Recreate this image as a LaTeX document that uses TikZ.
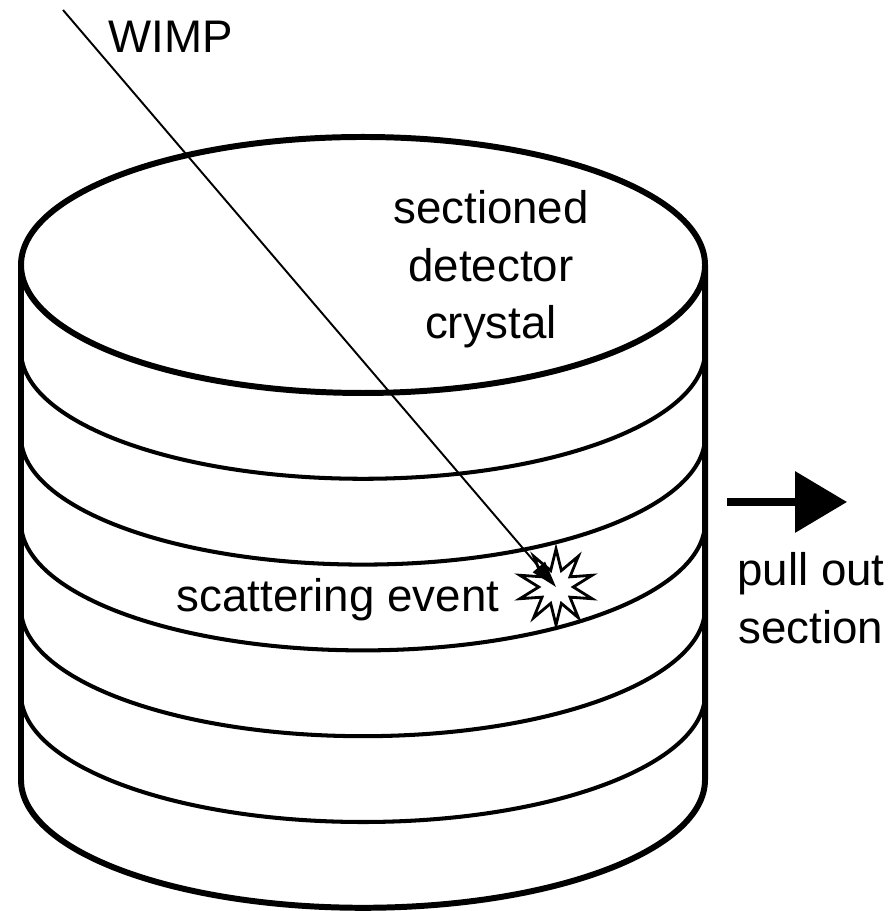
\documentclass[tikz,border=0pt]{standalone}
\usepackage{fontspec}
\setmainfont{Liberation Sans}
\usetikzlibrary{arrows.meta,shapes.geometric}
\tikzset{
  rim/.style={line width=3.4pt},
  slice/.style={line width=2.3pt},
  burst/.style={star, star points=10, star point ratio=2.2, minimum size=1.52cm,
    inner sep=0pt, draw, line width=1.6pt, fill=white},
}
\begin{document}
\begin{tikzpicture}[x=0.02cm, y=0.02cm, every node/.style={font=\fontsize{26}{32.5}\selectfont}]
  \useasboundingbox (0,0) rectangle (892,911);
  % sections under the lid
  \foreach \k in {1,...,5}
    \draw[slice] (21,646-85.8*\k) arc (180:360:342 and 128);
  % crystal outline
  \draw[rim] (21,646) -- (21,131.2) arc (180:360:342 and 128) -- (705,646);
  \draw[rim] (363,646) ellipse (342 and 128);
  \node [anchor=base] (lid) at (491,687) {\begin{tabular}[t]{c}sectioned\\detector\\crystal\end{tabular}};
  \node [burst] (hit) at (556,324) {};
  \node [anchor=base] (event) at (338,299) {scattering event};
  \coordinate (src) at (63,901);
  \draw[line width=1.1pt, -{Triangle[length=15pt,width=9pt]}] (src) -- (hit.center);
  \node [anchor=base west, inner sep=0pt] (wimp) at (108,858) {WIMP};
  % pull out arrow
  \coordinate (pullA) at (727,409);
  \coordinate (pullB) at (847,409);
  \draw[line width=4pt, -{Triangle[length=29.5pt,width=34pt]}] (pullA) -- (pullB);
  \node [anchor=base] (pull) at (811,325) {\begin{tabular}[t]{c}pull out\\section\end{tabular}};
\end{tikzpicture}
\end{document}
